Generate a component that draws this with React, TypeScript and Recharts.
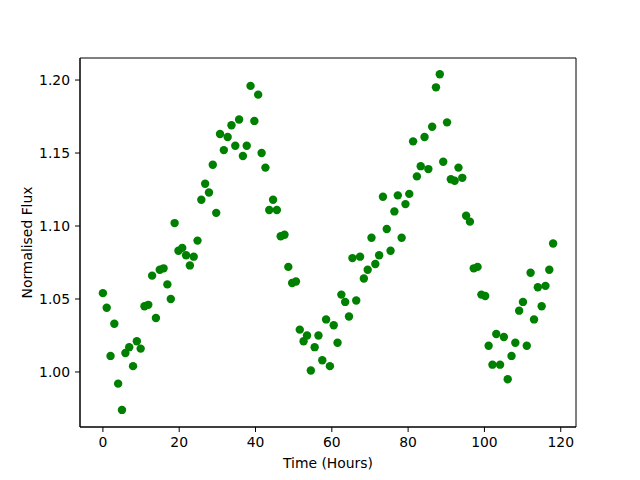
import { ScatterChart, Scatter, XAxis, YAxis, ReferenceArea } from "recharts";

// time stamps (hours)
const hours = [
  0.0, 1.0, 2.0, 3.0, 4.0, 5.0, 5.9, 6.9, 7.9, 8.9,
  9.9, 10.9, 11.9, 12.9, 13.9, 14.9, 15.9, 16.9, 17.8, 18.8,
  19.8, 20.8, 21.8, 22.8, 23.8, 24.8, 25.8, 26.8, 27.8, 28.8,
  29.7, 30.7, 31.7, 32.7, 33.7, 34.7, 35.7, 36.7, 37.7, 38.7,
  39.7, 40.7, 41.6, 42.6, 43.6, 44.6, 45.6, 46.6, 47.6, 48.6,
  49.6, 50.6, 51.6, 52.6, 53.5, 54.5, 55.5, 56.5, 57.5, 58.5,
  59.5, 60.5, 61.5, 62.5, 63.5, 64.5, 65.4, 66.4, 67.4, 68.4,
  69.4, 70.4, 71.4, 72.4, 73.4, 74.4, 75.4, 76.4, 77.3, 78.3,
  79.3, 80.3, 81.3, 82.3, 83.3, 84.3, 85.3, 86.3, 87.3, 88.3,
  89.2, 90.2, 91.2, 92.2, 93.2, 94.2, 95.2, 96.2, 97.2, 98.2,
  99.2, 100.2, 101.1, 102.1, 103.1, 104.1, 105.1, 106.1, 107.1, 108.1,
  109.1, 110.1, 111.1, 112.1, 113.0, 114.0, 115.0, 116.0, 117.0, 118.0,
];

const flux = [
  1.054, 1.044, 1.011, 1.033, 0.992, 0.974, 1.013, 1.017, 1.004, 1.021,
  1.016, 1.045, 1.046, 1.066, 1.037, 1.07, 1.071, 1.06, 1.05, 1.102,
  1.083, 1.085, 1.08, 1.073, 1.079, 1.09, 1.118, 1.129, 1.123, 1.142,
  1.109, 1.163, 1.152, 1.161, 1.169, 1.155, 1.173, 1.148, 1.155, 1.196,
  1.172, 1.19, 1.15, 1.14, 1.111, 1.118, 1.111, 1.093, 1.094, 1.072,
  1.061, 1.062, 1.029, 1.021, 1.025, 1.001, 1.017, 1.025, 1.008, 1.036,
  1.004, 1.032, 1.02, 1.053, 1.048, 1.038, 1.078, 1.049, 1.079, 1.064,
  1.07, 1.092, 1.074, 1.08, 1.12, 1.098, 1.083, 1.11, 1.121, 1.092,
  1.115, 1.122, 1.158, 1.134, 1.141, 1.161, 1.139, 1.168, 1.195, 1.204,
  1.144, 1.171, 1.132, 1.131, 1.14, 1.133, 1.107, 1.103, 1.071, 1.072,
  1.053, 1.052, 1.018, 1.005, 1.026, 1.005, 1.024, 0.995, 1.011, 1.02,
  1.042, 1.048, 1.018, 1.068, 1.036, 1.058, 1.045, 1.059, 1.07, 1.088,
];

const xTicks = [0, 20, 40, 60, 80, 100, 120];
const yTicks = [1.0, 1.05, 1.1, 1.15, 1.2];

const points = hours.map((t, i) => ({ t, flux: flux[i] }));

const font = "'DejaVu Sans', sans-serif";
const xDomain = [-6, 124];
const yDomain = [0.9623, 1.2151];

function Dot(props: any) {
  return <circle cx={props.cx} cy={props.cy} r={4.2} fill="#008000" />;
}

export default function App() {
  return (
    <div style={{ position: "absolute", left: 0, top: 0, width: 640, height: 480, background: "#fff" }}>
      <ScatterChart width={640} height={480} margin={{ top: 58, right: 64, bottom: 0, left: 0 }}>
        <XAxis
          dataKey="t"
          type="number"
          domain={xDomain}
          ticks={xTicks}
          allowDataOverflow
          height={53}
          tickSize={5}
          tickMargin={5}
          stroke="#000"
          tick={{ fill: "#000", fontSize: 13.9, fontFamily: font }}
          label={{ value: "Time (Hours)", position: "insideBottom", offset: 12, fill: "#000", fontSize: 13.9, fontFamily: font }}
        />
        <YAxis
          dataKey="flux"
          type="number"
          domain={yDomain}
          ticks={yTicks}
          allowDataOverflow
          width={80}
          tickSize={5}
          tickMargin={5}
          stroke="#000"
          tickFormatter={(v: number) => v.toFixed(2)}
          tick={{ fill: "#000", fontSize: 13.9, fontFamily: font }}
          label={{
            value: "Normalised Flux",
            angle: -90,
            position: "insideLeft",
            offset: 27,
            fill: "#000",
            fontSize: 13.9,
            fontFamily: font,
            style: { textAnchor: "middle" },
          }}
        />
        <Scatter data={points} shape={Dot} isAnimationActive={false} />
        <ReferenceArea
          x1={xDomain[0]}
          x2={xDomain[1]}
          y1={yDomain[0]}
          y2={yDomain[1]}
          fill="none"
          stroke="#000"
          strokeWidth={1}
          fillOpacity={0}
        />
      </ScatterChart>
    </div>
  );
}
